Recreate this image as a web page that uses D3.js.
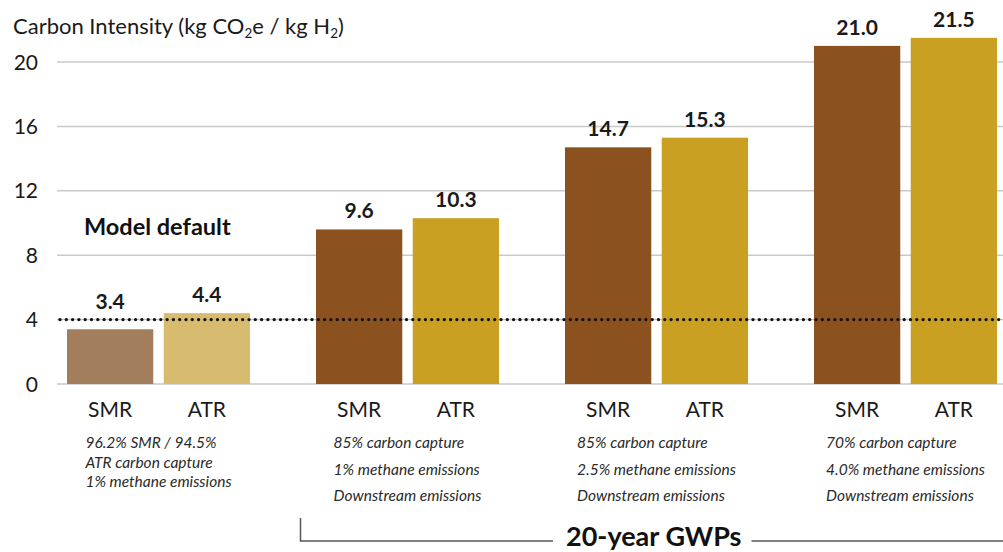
<!DOCTYPE html>
<html lang="en">
<head>
<meta charset="UTF-8">
<title>Carbon Intensity of SMR / ATR hydrogen</title>
<style>
  body { margin: 0; background: #fff; }
  svg { display: block; font-family: Lato, "Open Sans", sans-serif; }
  .grid line { stroke: #c9c9c9; stroke-width: 1.5; }
  .tick-label { font-size: 21px; fill: #1a1a1a; }
  .value { font-size: 21px; font-weight: bold; fill: #1a1a1a; text-anchor: middle; }
  .cat { font-size: 21px; fill: #1a1a1a; text-anchor: middle; }
  .note { font-size: 15.5px; font-style: italic; fill: #2a2a2a; }
</style>
</head>
<body>
<svg id="chart" width="1003" height="552"></svg>
<script src="https://cdnjs.cloudflare.com/ajax/libs/d3/7.8.5/d3.min.js"></script>
<script>
// data
var processes = ["SMR", "ATR"];
var smrValues = [3.4, 9.6, 14.7, 21.0];
var atrValues = [4.4, 10.3, 15.3, 21.5];
var yTicks = [0, 4, 8, 12, 16, 20];
var modelDefault = 4;
var notes = [
  ["96.2% SMR / 94.5%", "ATR carbon capture", "1% methane emissions"],
  ["85% carbon capture", "1% methane emissions", "Downstream emissions"],
  ["85% carbon capture", "2.5% methane emissions", "Downstream emissions"],
  ["70% carbon capture", "4.0% methane emissions", "Downstream emissions"]
];
var smrColors = ["#a37e5d", "#8b521f", "#8b521f", "#8b521f"];
var atrColors = ["#d7bc6f", "#c9a022", "#c9a022", "#c9a022"];

var svg = d3.select("#chart");
var width = 1003;

var y = d3.scaleLinear().domain([0, 20]).range([384, 62]);
var x = d3.scaleBand().domain(d3.range(smrValues.length)).range([67, 997]).paddingInner(0.265);
var xIn = d3.scaleBand().domain(processes).range([0, x.bandwidth()]).paddingInner(0.108);

// title
var title = svg.append("text").attr("x", 13).attr("y", 34)
  .style("font-size", "22px").style("fill", "#1a1a1a");
title.append("tspan").text("Carbon Intensity (kg CO");
title.append("tspan").attr("dy", 4).style("font-size", "13.5px").text("2");
title.append("tspan").attr("dy", -4).text("e / kg H");
title.append("tspan").attr("dy", 4).style("font-size", "13.5px").text("2");
title.append("tspan").attr("dy", -4).text(")");

// gridlines
var grid = svg.append("g").attr("class", "grid");
grid.selectAll("line").data(yTicks).enter().append("line")
  .attr("x1", 57).attr("x2", width)
  .attr("y1", function(d) { return y(d); })
  .attr("y2", function(d) { return y(d); });

svg.append("g").selectAll("text").data(yTicks).enter().append("text")
  .attr("class", "tick-label")
  .attr("x", 38).attr("y", function(d) { return y(d); })
  .attr("dy", "0.36em").attr("text-anchor", "end")
  .text(function(d) { return d; });

// bars
var rows = [];
smrValues.forEach(function(v, i) {
  rows.push({ g: i, p: "SMR", v: v, c: smrColors[i] });
  rows.push({ g: i, p: "ATR", v: atrValues[i], c: atrColors[i] });
});

svg.append("g").selectAll("rect").data(rows).enter().append("rect")
  .attr("x", function(d) { return x(d.g) + xIn(d.p); })
  .attr("width", xIn.bandwidth())
  .attr("y", function(d) { return y(d.v); })
  .attr("height", function(d) { return y(0) - y(d.v); })
  .attr("fill", function(d) { return d.c; });

// value labels, kept clear of the dotted model-default line
svg.append("g").selectAll("text").data(rows).enter().append("text")
  .attr("class", "value")
  .attr("x", function(d) { return x(d.g) + xIn(d.p) + xIn.bandwidth() / 2; })
  .attr("y", function(d) { return Math.min(y(d.v), y(modelDefault)) - 11; })
  .text(function(d) { return d.v.toFixed(1); });

svg.append("g").selectAll("text").data(rows).enter().append("text")
  .attr("class", "cat")
  .attr("x", function(d) { return x(d.g) + xIn(d.p) + xIn.bandwidth() / 2; })
  .attr("y", 417)
  .text(function(d) { return d.p; });

// model default dotted line
svg.append("line")
  .attr("x1", 60).attr("x2", width)
  .attr("y1", y(modelDefault)).attr("y2", y(modelDefault))
  .attr("stroke", "#111").attr("stroke-width", 3.4)
  .attr("stroke-linecap", "round").attr("stroke-dasharray", "0,6.3");

svg.append("text").attr("x", 84).attr("y", 235)
  .style("font-size", "23.5px").style("font-weight", "bold").style("fill", "#111")
  .text("Model default");

// notes under each group, left-aligned block centred on the group
notes.forEach(function(lines, i) {
  var g = svg.append("g");
  var step = i === 0 ? 19.5 : 26.5;
  var t = g.selectAll("text").data(lines).enter().append("text")
    .attr("class", "note")
    .attr("y", function(d, k) { return 448 + k * step; })
    .text(function(d) { return d; });
  var w = d3.max(t.nodes(), function(n) { return n.getComputedTextLength(); });
  t.attr("x", x(i) + x.bandwidth() / 2 - w / 2);
});

// 20-year GWP bracket
svg.append("path")
  .attr("d", "M300.5,518V541H553")
  .attr("fill", "none").attr("stroke", "#555").attr("stroke-width", 1.5);
var gwp = svg.append("text").attr("x", 566).attr("y", 546)
  .style("font-size", "27px").style("font-weight", "bold").style("fill", "#111")
  .text("20-year GWPs");
var gw = gwp.node().getComputedTextLength();
svg.append("line")
  .attr("x1", 566 + gw + 10).attr("x2", width)
  .attr("y1", 541).attr("y2", 541)
  .attr("stroke", "#555").attr("stroke-width", 1.5);
</script>
</body>
</html>
